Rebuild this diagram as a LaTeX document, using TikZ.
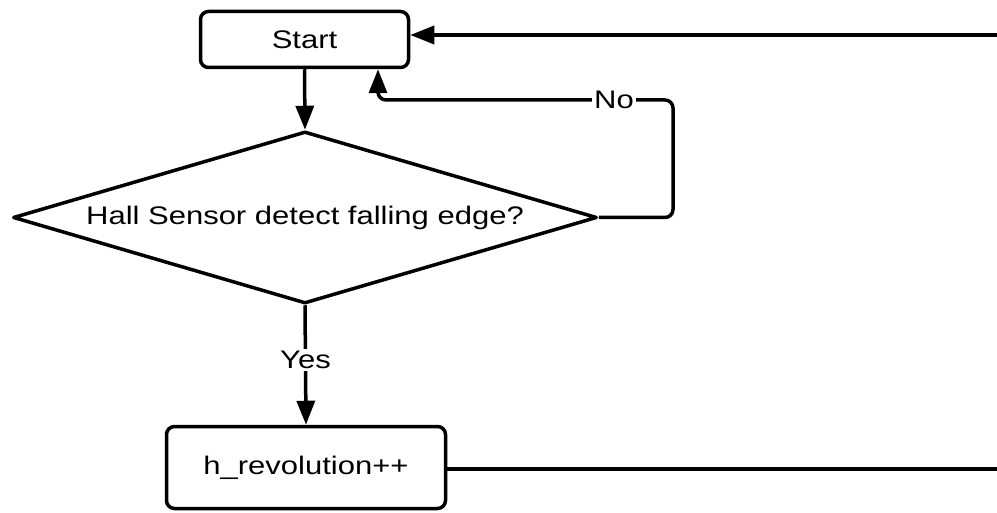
\documentclass[tikz,border=0pt]{standalone}
\usepackage{fontspec}
\usepackage{graphicx}
\setmainfont{Liberation Sans}
\usetikzlibrary{shapes.geometric,arrows.meta}
\newcommand\sqz[1]{\scalebox{1}[0.82]{#1}}
\begin{document}
\begin{tikzpicture}[x=1pt,y=-1pt,
  every node/.style={font=\fontsize{31}{36}\selectfont},
  procbox/.style={draw, line width=3.5pt, rounded corners=8pt, inner sep=0pt},
  decbox/.style={draw, line width=3.5pt, diamond, aspect=3.4, inner sep=0pt, line join=round},
  conn/.style={line width=3.5pt},
  arr/.style={conn, -{Triangle[length=24pt,width=18pt]}},
  lbl/.style={fill=white, inner sep=2pt}]
\useasboundingbox (0,0) rectangle (997,513);
\node[procbox, minimum width=208pt, minimum height=56pt] (start) at (304.5,39.5) {\sqz{Start}};
\node[decbox, minimum width=584pt, minimum height=172pt] (dec) at (305,217.5) {\sqz{Hall Sensor detect falling edge?}};
\node[procbox, minimum width=279pt, minimum height=82pt] (hrev) at (306,467.5) {\sqz{h\_revolution++}};
\coordinate (rtop) at (997,35);
\coordinate (rbot) at (997,469);
\coordinate (nor) at (673,100);
\coordinate (noc) at (378,100);
\draw[arr] (start.south) -- (dec.north);
\draw[arr, rounded corners=8pt] (dec.east) -| (nor) -- node[lbl, pos=0.2] {\sqz{No}} (noc) -- (noc |- start.south);
\draw[arr] (dec.south) -- node[lbl, pos=0.46] {\sqz{Yes}} (hrev.north);
\draw[conn] (hrev.east |- rbot) -- (rbot);
\draw[arr] (rtop) -- (rtop -| start.east);
\end{tikzpicture}
\end{document}
